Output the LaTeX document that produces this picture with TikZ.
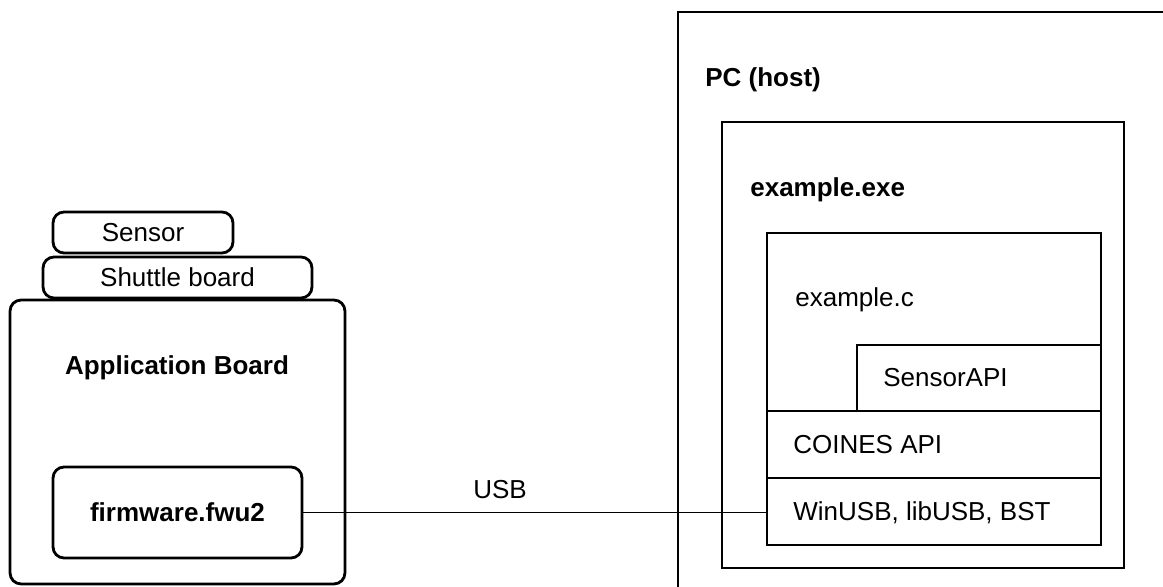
\documentclass[tikz,border=0pt]{standalone}
\usepackage{fontspec}
\setmainfont{Liberation Sans}
\usetikzlibrary{positioning}

\begin{document}
\begin{tikzpicture}[x=0.02cm, y=-0.02cm,
  box/.style={draw, line width=1.6pt, inner sep=0pt},
  rbox/.style={box, rounded corners=0.22cm},
  txt/.style={inner sep=0pt, font=\fontsize{14.8}{17}\selectfont},
  lbl/.style={txt, anchor=west}]
\path[use as bounding box, clip] (0,0) rectangle (1163,587);
% left side: boards
\node[rbox, minimum width=3.6cm, minimum height=0.82cm, txt] (sensor) at (143,232.5) {Sensor};
\node[rbox, minimum width=5.38cm, minimum height=0.82cm, txt] (shuttle) at (177.5,277.5) {Shuttle board};
\node[rbox, minimum width=6.7cm, minimum height=5.68cm] (appboard) at (177.5,442) {};
\node[txt, font=\fontsize{14.8}{17}\selectfont\bfseries] (applbl) at (177,368) {Application Board};
\node[rbox, minimum width=4.98cm, minimum height=1.82cm, txt, font=\fontsize{14.8}{17}\selectfont\bfseries] (fw) at (177.5,512.5) {firmware.fwu2};
% right side: host
\node[box, minimum width=10.24cm, minimum height=11.96cm] (pc) at (934,311) {};
\node[lbl, font=\fontsize{14.8}{17}\selectfont\bfseries] (pclbl) at (705,80) {PC (host)};
\node[box, minimum width=8.04cm, minimum height=8.92cm] (exe) at (923,345) {};
\node[lbl, font=\fontsize{14.8}{17}\selectfont\bfseries] (exelbl) at (750,190) {example.exe};
\node[box, minimum width=6.68cm, minimum height=3.56cm] (cfile) at (934,322) {};
\node[lbl] (clbl) at (795,300) {example.c};
\node[box, minimum width=4.88cm, minimum height=1.32cm] (sapi) at (979,378) {};
\node[lbl] (sapilbl) at (883,378) {SensorAPI};
\node[box, minimum width=6.68cm, minimum height=1.34cm] (coines) at (934,444.5) {};
\node[lbl] (coineslbl) at (793,445) {COINES API};
\node[box, minimum width=6.68cm, minimum height=1.34cm] (wusb) at (934,511.5) {};
\node[lbl] (wusblbl) at (793,513) {WinUSB, libUSB, BST};
% link
\draw[line width=0.8pt] (fw.east) -- (fw.east -| wusb.west);
\node[txt] (usblbl) at (500,490) {USB};
\end{tikzpicture}
\end{document}
